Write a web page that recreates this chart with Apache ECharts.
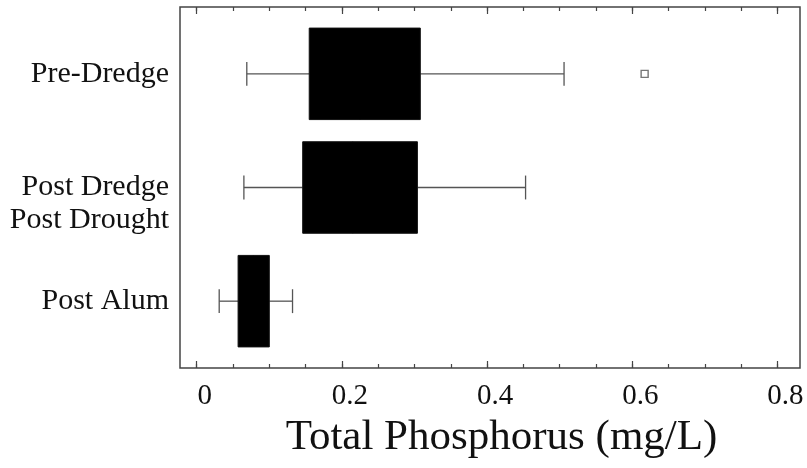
<!DOCTYPE html>
<html>
<head>
<meta charset="utf-8">
<title>Total Phosphorus</title>
<script src="https://cdn.jsdelivr.net/npm/echarts@6/dist/echarts.min.js"></script>
<style>
  html, body { margin: 0; padding: 0; background: #fff; }
  #chart { width: 807px; height: 468px; }
</style>
</head>
<body>
<div id="chart"></div>
<script>
// Total phosphorus by lake treatment period (mg/L)
const categories = ['Pre-Dredge', 'Post Dredge\nPost Drought', 'Post Alum'];
const lowWhisker = [0.069, 0.065, 0.031];
const quartile1 = [0.155, 0.146, 0.057];
const medians = [0.225, 0.215, 0.078];
const quartile3 = [0.308, 0.304, 0.100];
const highWhisker = [0.506, 0.453, 0.132];
const outliers = [[0.617, 0]]; // [value, category index]

const minorTicks = [0, 0.05, 0.1, 0.15, 0.2, 0.25, 0.3, 0.35, 0.4, 0.45, 0.5, 0.55, 0.6, 0.65, 0.7, 0.75, 0.8];
const majorTicks = [0, 0.2, 0.4, 0.6, 0.8];
const tickLabels = [0, 0.2, 0.4, 0.6, 0.8];

const X_MIN = -0.023;
const X_MAX = 0.831;
const SERIF = 'Liberation Serif, Times New Roman, serif';
const INK = '#111';
const FRAME = '#444';

const boxData = categories.map((c, i) => [i, lowWhisker[i], quartile1[i], medians[i], quartile3[i], highWhisker[i]]);

function tickAxis(position, ticks, len, withLabels) {
  const ax = {
    type: 'value', gridIndex: 0, position: position,
    min: X_MIN, max: X_MAX,
    axisLine: { show: false },
    splitLine: { show: false },
    axisTick: { show: true, inside: true, length: len, customValues: ticks,
      lineStyle: { color: FRAME, width: 1.2 } },
    axisLabel: { show: false }
  };
  if (withLabels) {
    ax.axisLabel = {
      show: true, customValues: tickLabels, margin: 14,
      fontFamily: SERIF, fontSize: 29, color: INK,
      padding: [0, 0, 0, 16],
      formatter: v => String(+v.toFixed(2))
    };
    ax.name = 'Total Phosphorus (mg/L)';
    ax.nameLocation = 'middle';
    ax.nameGap = 46;
    ax.nameTextStyle = { fontFamily: SERIF, fontSize: 43, color: INK, padding: [0, 0, 0, 23] };
  }
  return ax;
}

const chart = echarts.init(document.getElementById('chart'), null, { renderer: 'canvas' });
chart.setOption({
  animation: false,
  backgroundColor: '#fff',
  grid: [
    { left: 180, top: 7, width: 620, height: 361, show: true,
      borderColor: FRAME, borderWidth: 1.5, backgroundColor: 'transparent' },
    { left: 180, top: 17, width: 620, height: 341 }
  ],
  xAxis: [
    tickAxis('bottom', minorTicks, 4, true),
    tickAxis('bottom', majorTicks, 7, false),
    tickAxis('top', minorTicks, 4, false),
    tickAxis('top', majorTicks, 7, false),
    { type: 'value', gridIndex: 1, min: X_MIN, max: X_MAX, show: false }
  ],
  yAxis: [
    { type: 'value', gridIndex: 0, show: false },
    {
      type: 'category', gridIndex: 1, data: categories, inverse: true,
      axisLine: { show: false }, axisTick: { show: false }, splitLine: { show: false },
      axisLabel: {
        margin: 11, fontFamily: SERIF, fontSize: 30, color: INK, lineHeight: 33,
        formatter: v => v.indexOf('\n') >= 0 ? '\n' + v : v
      }
    }
  ],
  series: [
    {
      type: 'custom', xAxisIndex: 4, yAxisIndex: 1,
      data: boxData,
      encode: { x: [1, 2, 3, 4, 5], y: 0 },
      renderItem: function (params, api) {
        const cat = api.value(0);
        const lo = api.coord([api.value(1), cat]);
        const q1 = api.coord([api.value(2), cat]);
        const md = api.coord([api.value(3), cat]);
        const q3 = api.coord([api.value(4), cat]);
        const hi = api.coord([api.value(5), cat]);
        const band = api.size([0, 1])[1];
        const boxH = band * 0.805;
        const capH = band * 0.21;
        const cy = lo[1];
        const whisker = { stroke: '#555', lineWidth: 1.3 };
        return {
          type: 'group',
          children: [
            { type: 'line', shape: { x1: lo[0], y1: cy, x2: q1[0], y2: cy }, style: whisker },
            { type: 'line', shape: { x1: q3[0], y1: cy, x2: hi[0], y2: cy }, style: whisker },
            { type: 'line', shape: { x1: lo[0], y1: cy - capH / 2, x2: lo[0], y2: cy + capH / 2 }, style: whisker },
            { type: 'line', shape: { x1: hi[0], y1: cy - capH / 2, x2: hi[0], y2: cy + capH / 2 }, style: whisker },
            // median line first, box drawn over it: black on black, as in the source figure
            { type: 'line', shape: { x1: md[0], y1: cy - boxH / 2, x2: md[0], y2: cy + boxH / 2 },
              style: { stroke: '#000', lineWidth: 1 } },
            { type: 'rect', shape: { x: q1[0], y: cy - boxH / 2, width: q3[0] - q1[0], height: boxH },
              style: { fill: '#000', stroke: '#111', lineWidth: 1 } }
          ]
        };
      }
    },
    {
      type: 'scatter', xAxisIndex: 4, yAxisIndex: 1,
      data: outliers,
      symbol: 'rect', symbolSize: 7,
      itemStyle: { color: '#fff', borderColor: '#555', borderWidth: 1.4 }
    }
  ]
});
</script>
</body>
</html>
